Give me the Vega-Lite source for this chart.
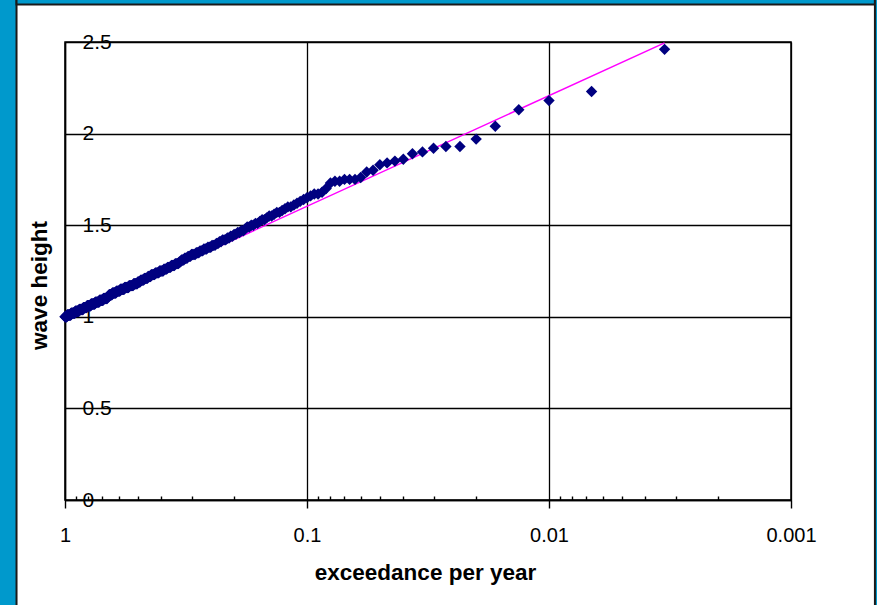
{
  "$schema": "https://vega.github.io/schema/vega-lite/v6.json",
  "width": 726,
  "height": 458,
  "autosize": {"type": "none"},
  "padding": {"left": 65, "top": 42, "right": 86, "bottom": 105},
  "background": "white",
  "config": {
    "view": {"stroke": "#000", "strokeWidth": 1.5},
    "font": "Liberation Sans",
    "axis": {
      "labelFont": "Liberation Sans",
      "labelFontSize": 20,
      "labelColor": "#000",
      "titleFont": "Liberation Sans",
      "titleFontSize": 22.5,
      "titleFontWeight": "bold",
      "titleColor": "#000",
      "gridColor": "#000",
      "gridWidth": 1.3,
      "gridOpacity": 1,
      "domainColor": "#000",
      "domainWidth": 1.5,
      "tickColor": "#000",
      "tickWidth": 1.4,
      "labelFlush": false,
      "labelOverlap": false
    }
  },
  "resolve": {"axis": {"x": "independent", "y": "independent"}},
  "datasets": {
    "fit": [{"p": 1, "h": 1.0}, {"p": 0.00333, "h": 2.495}],
    "pts": [
      {"p":0.00333,"h":2.46},{"p":0.00667,"h":2.23},{"p":0.01,"h":2.18},{"p":0.01333,"h":2.13},{"p":0.01667,"h":2.04},
      {"p":0.02,"h":1.97},{"p":0.02333,"h":1.93},{"p":0.02667,"h":1.93},{"p":0.03,"h":1.92},{"p":0.03333,"h":1.9},
      {"p":0.03667,"h":1.89},{"p":0.04,"h":1.86},{"p":0.04333,"h":1.85},{"p":0.04667,"h":1.84},{"p":0.05,"h":1.83},
      {"p":0.05333,"h":1.8},{"p":0.05667,"h":1.79},{"p":0.06,"h":1.76},{"p":0.06333,"h":1.75},{"p":0.06667,"h":1.75},
      {"p":0.07,"h":1.75},{"p":0.07333,"h":1.74},{"p":0.07667,"h":1.74},{"p":0.08,"h":1.73},{"p":0.08333,"h":1.7},
      {"p":0.08667,"h":1.68},{"p":0.09,"h":1.67},{"p":0.09333,"h":1.67},{"p":0.09667,"h":1.66},{"p":0.1,"h":1.65},
      {"p":0.1033,"h":1.64},{"p":0.1067,"h":1.63},{"p":0.11,"h":1.62},{"p":0.1133,"h":1.61},{"p":0.1167,"h":1.6},
      {"p":0.12,"h":1.6},{"p":0.1233,"h":1.59},{"p":0.1267,"h":1.58},{"p":0.13,"h":1.57},{"p":0.1333,"h":1.57},
      {"p":0.1367,"h":1.56},{"p":0.14,"h":1.55},{"p":0.1433,"h":1.55},{"p":0.1467,"h":1.54},{"p":0.15,"h":1.53},
      {"p":0.1533,"h":1.53},{"p":0.1567,"h":1.52},{"p":0.16,"h":1.51},{"p":0.1633,"h":1.51},{"p":0.1667,"h":1.5},
      {"p":0.17,"h":1.5},{"p":0.1733,"h":1.49},{"p":0.1767,"h":1.49},{"p":0.18,"h":1.48},{"p":0.1833,"h":1.47},
      {"p":0.1867,"h":1.47},{"p":0.19,"h":1.46},{"p":0.1933,"h":1.46},{"p":0.1967,"h":1.45},{"p":0.2,"h":1.45},
      {"p":0.2033,"h":1.44},{"p":0.2067,"h":1.44},{"p":0.21,"h":1.43},{"p":0.2133,"h":1.43},{"p":0.2167,"h":1.42},
      {"p":0.22,"h":1.42},{"p":0.2233,"h":1.42},{"p":0.2267,"h":1.41},{"p":0.23,"h":1.41},{"p":0.2333,"h":1.4},
      {"p":0.2367,"h":1.4},{"p":0.24,"h":1.39},{"p":0.2433,"h":1.39},{"p":0.2467,"h":1.39},{"p":0.25,"h":1.38},
      {"p":0.2533,"h":1.38},{"p":0.2567,"h":1.38},{"p":0.26,"h":1.37},{"p":0.2633,"h":1.37},{"p":0.2667,"h":1.37},
      {"p":0.27,"h":1.36},{"p":0.2733,"h":1.36},{"p":0.2767,"h":1.36},{"p":0.28,"h":1.35},{"p":0.2833,"h":1.35},
      {"p":0.2867,"h":1.35},{"p":0.29,"h":1.34},{"p":0.2933,"h":1.34},{"p":0.2967,"h":1.34},{"p":0.3,"h":1.34},
      {"p":0.3033,"h":1.33},{"p":0.3067,"h":1.33},{"p":0.31,"h":1.33},{"p":0.3133,"h":1.32},{"p":0.3167,"h":1.32},
      {"p":0.32,"h":1.32},{"p":0.3233,"h":1.31},{"p":0.3267,"h":1.31},{"p":0.33,"h":1.31},{"p":0.3333,"h":1.3},
      {"p":0.3367,"h":1.3},{"p":0.34,"h":1.29},{"p":0.3433,"h":1.29},{"p":0.3467,"h":1.29},{"p":0.35,"h":1.29},
      {"p":0.3533,"h":1.28},{"p":0.3567,"h":1.28},{"p":0.36,"h":1.28},{"p":0.3633,"h":1.28},{"p":0.3667,"h":1.27},
      {"p":0.37,"h":1.27},{"p":0.3733,"h":1.27},{"p":0.3767,"h":1.27},{"p":0.38,"h":1.26},{"p":0.3833,"h":1.26},
      {"p":0.3867,"h":1.26},{"p":0.39,"h":1.26},{"p":0.3933,"h":1.25},{"p":0.3967,"h":1.25},{"p":0.4,"h":1.25},
      {"p":0.4033,"h":1.25},{"p":0.4067,"h":1.25},{"p":0.41,"h":1.24},{"p":0.4133,"h":1.24},{"p":0.4167,"h":1.24},
      {"p":0.42,"h":1.24},{"p":0.4233,"h":1.24},{"p":0.4267,"h":1.23},{"p":0.43,"h":1.23},{"p":0.4333,"h":1.23},
      {"p":0.4367,"h":1.23},{"p":0.44,"h":1.23},{"p":0.4433,"h":1.22},{"p":0.4467,"h":1.22},{"p":0.45,"h":1.22},
      {"p":0.4533,"h":1.22},{"p":0.4567,"h":1.21},{"p":0.46,"h":1.21},{"p":0.4633,"h":1.21},{"p":0.4667,"h":1.21},
      {"p":0.47,"h":1.21},{"p":0.4733,"h":1.2},{"p":0.4767,"h":1.2},{"p":0.48,"h":1.2},{"p":0.4833,"h":1.2},
      {"p":0.4867,"h":1.2},{"p":0.49,"h":1.19},{"p":0.4933,"h":1.19},{"p":0.4967,"h":1.19},{"p":0.5,"h":1.19},
      {"p":0.5033,"h":1.18},{"p":0.5067,"h":1.18},{"p":0.51,"h":1.18},{"p":0.5133,"h":1.18},{"p":0.5167,"h":1.18},
      {"p":0.52,"h":1.18},{"p":0.5233,"h":1.17},{"p":0.5267,"h":1.17},{"p":0.53,"h":1.17},{"p":0.5333,"h":1.17},
      {"p":0.5367,"h":1.17},{"p":0.54,"h":1.17},{"p":0.5433,"h":1.17},{"p":0.5467,"h":1.16},{"p":0.55,"h":1.16},
      {"p":0.5533,"h":1.16},{"p":0.5567,"h":1.16},{"p":0.56,"h":1.16},{"p":0.5633,"h":1.16},{"p":0.5667,"h":1.16},
      {"p":0.57,"h":1.15},{"p":0.5733,"h":1.15},{"p":0.5767,"h":1.15},{"p":0.58,"h":1.15},{"p":0.5833,"h":1.15},
      {"p":0.5867,"h":1.15},{"p":0.59,"h":1.15},{"p":0.5933,"h":1.14},{"p":0.5967,"h":1.14},{"p":0.6,"h":1.14},
      {"p":0.6033,"h":1.14},{"p":0.6067,"h":1.14},{"p":0.61,"h":1.14},{"p":0.6133,"h":1.14},{"p":0.6167,"h":1.13},
      {"p":0.62,"h":1.13},{"p":0.6233,"h":1.13},{"p":0.6267,"h":1.13},{"p":0.63,"h":1.13},{"p":0.6333,"h":1.13},
      {"p":0.6367,"h":1.13},{"p":0.64,"h":1.12},{"p":0.6433,"h":1.12},{"p":0.6467,"h":1.12},{"p":0.65,"h":1.12},
      {"p":0.6533,"h":1.12},{"p":0.6567,"h":1.12},{"p":0.66,"h":1.11},{"p":0.6633,"h":1.11},{"p":0.6667,"h":1.11},
      {"p":0.67,"h":1.1},{"p":0.6733,"h":1.1},{"p":0.6767,"h":1.1},{"p":0.68,"h":1.1},{"p":0.6833,"h":1.1},
      {"p":0.6867,"h":1.1},{"p":0.69,"h":1.1},{"p":0.6933,"h":1.1},{"p":0.6967,"h":1.09},{"p":0.7,"h":1.09},
      {"p":0.7033,"h":1.09},{"p":0.7067,"h":1.09},{"p":0.71,"h":1.09},{"p":0.7133,"h":1.09},{"p":0.7167,"h":1.09},
      {"p":0.72,"h":1.09},{"p":0.7233,"h":1.08},{"p":0.7267,"h":1.08},{"p":0.73,"h":1.08},{"p":0.7333,"h":1.08},
      {"p":0.7367,"h":1.08},{"p":0.74,"h":1.08},{"p":0.7433,"h":1.08},{"p":0.7467,"h":1.08},{"p":0.75,"h":1.08},
      {"p":0.7533,"h":1.07},{"p":0.7567,"h":1.07},{"p":0.76,"h":1.07},{"p":0.7633,"h":1.07},{"p":0.7667,"h":1.07},
      {"p":0.77,"h":1.07},{"p":0.7733,"h":1.07},{"p":0.7767,"h":1.07},{"p":0.78,"h":1.07},{"p":0.7833,"h":1.06},
      {"p":0.7867,"h":1.06},{"p":0.79,"h":1.06},{"p":0.7933,"h":1.06},{"p":0.7967,"h":1.06},{"p":0.8,"h":1.06},
      {"p":0.8033,"h":1.06},{"p":0.8067,"h":1.06},{"p":0.81,"h":1.06},{"p":0.8133,"h":1.05},{"p":0.8167,"h":1.05},
      {"p":0.82,"h":1.05},{"p":0.8233,"h":1.05},{"p":0.8267,"h":1.05},{"p":0.83,"h":1.05},{"p":0.8333,"h":1.05},
      {"p":0.8367,"h":1.05},{"p":0.84,"h":1.05},{"p":0.8433,"h":1.04},{"p":0.8467,"h":1.04},{"p":0.85,"h":1.04},
      {"p":0.8533,"h":1.04},{"p":0.8567,"h":1.04},{"p":0.86,"h":1.04},{"p":0.8633,"h":1.04},{"p":0.8667,"h":1.04},
      {"p":0.87,"h":1.04},{"p":0.8733,"h":1.04},{"p":0.8767,"h":1.03},{"p":0.88,"h":1.03},{"p":0.8833,"h":1.03},
      {"p":0.8867,"h":1.03},{"p":0.89,"h":1.03},{"p":0.8933,"h":1.03},{"p":0.8967,"h":1.03},{"p":0.9,"h":1.03},
      {"p":0.9033,"h":1.03},{"p":0.9067,"h":1.03},{"p":0.91,"h":1.02},{"p":0.9133,"h":1.02},{"p":0.9167,"h":1.02},
      {"p":0.92,"h":1.02},{"p":0.9233,"h":1.02},{"p":0.9267,"h":1.02},{"p":0.93,"h":1.02},{"p":0.9333,"h":1.02},
      {"p":0.9367,"h":1.02},{"p":0.94,"h":1.02},{"p":0.9433,"h":1.02},{"p":0.9467,"h":1.01},{"p":0.95,"h":1.01},
      {"p":0.9533,"h":1.01},{"p":0.9567,"h":1.01},{"p":0.96,"h":1.01},{"p":0.9633,"h":1.01},{"p":0.9667,"h":1.01},
      {"p":0.97,"h":1.01},{"p":0.9733,"h":1.01},{"p":0.9767,"h":1.01},{"p":0.98,"h":1.01},{"p":0.9833,"h":1.0},
      {"p":0.9867,"h":1.0},{"p":0.99,"h":1.0},{"p":0.9933,"h":1.0},{"p":0.9967,"h":1.0},{"p":1.0,"h":1.0}
    ]
  },
  "layer": [
    {
      "data": {"values": [{}]},
      "mark": {"type": "rect", "fill": "#0099cc", "stroke": "#1a1a1a", "strokeWidth": 2, "clip": false},
      "encoding": {
        "x": {"datum": 2.5, "type": "quantitative", "scale": {"type": "log", "domain": [0.001, 1], "reverse": true}, "axis": null},
        "x2": {"datum": 1.586},
        "y": {"datum": 3, "type": "quantitative", "scale": {"domain": [0, 2.5], "nice": false}, "axis": null},
        "y2": {"datum": -1}
      }
    },
    {
      "data": {"values": [{}]},
      "mark": {"type": "rect", "fill": "#0099cc", "stroke": "#1a1a1a", "strokeWidth": 2, "clip": false},
      "encoding": {
        "x": {"datum": 1.586, "type": "quantitative", "axis": null},
        "x2": {"datum": 0.00045},
        "y": {"datum": 3, "type": "quantitative", "axis": null},
        "y2": {"datum": 2.7047}
      }
    },
    {
      "data": {"values": [{}]},
      "mark": {"type": "rect", "fill": "#0099cc", "stroke": "#1a1a1a", "strokeWidth": 2, "clip": false},
      "encoding": {
        "x": {"datum": 0.00045, "type": "quantitative", "axis": null},
        "x2": {"datum": 0.0003},
        "y": {"datum": 3, "type": "quantitative", "axis": null},
        "y2": {"datum": -1}
      }
    },
    {
      "data": {"name": "fit"},
      "mark": {"type": "line", "color": "#ff00ff", "strokeWidth": 1.5},
      "encoding": {
        "x": {
          "field": "p", "type": "quantitative",
          "axis": {
            "orient": "bottom",
            "values": [0.9, 0.8, 0.7, 0.6, 0.5, 0.4, 0.3, 0.2, 0.09, 0.08, 0.07, 0.06, 0.05, 0.04, 0.03, 0.02, 0.009, 0.008, 0.007, 0.006, 0.005, 0.004, 0.003, 0.002],
            "tickSize": -4,
            "labels": false,
            "domain": false,
            "grid": false,
            "title": null
          }
        },
        "y": {"field": "h", "type": "quantitative", "axis": null}
      }
    },
    {
      "data": {"name": "pts"},
      "mark": {"type": "point", "shape": "diamond", "filled": true, "color": "#000080", "opacity": 1, "size": 130},
      "encoding": {
        "x": {
          "field": "p", "type": "quantitative",
          "axis": {
            "orient": "bottom",
            "values": [1, 0.1, 0.01, 0.001],
            "format": "~g",
            "grid": true,
            "tickSize": 8,
            "labelPadding": 17,
            "labelBaseline": "top",
            "title": "exceedance per year",
            "titleX": 360,
            "titleY": 79,
            "titleBaseline": "alphabetic",
            "titleAlign": "center"
          }
        },
        "y": {
          "field": "h", "type": "quantitative",
          "axis": {
            "orient": "left",
            "values": [0, 0.5, 1, 1.5, 2, 2.5],
            "format": "~g",
            "grid": true,
            "ticks": false,
            "labelAlign": "left",
            "labelBaseline": "middle",
            "labelPadding": -17,
            "labelFontSize": 21,
            "title": "wave height",
            "titleAngle": 270,
            "titleX": -19,
            "titleY": 243,
            "titleAlign": "center",
            "titleBaseline": "alphabetic"
          }
        }
      }
    }
  ]
}
